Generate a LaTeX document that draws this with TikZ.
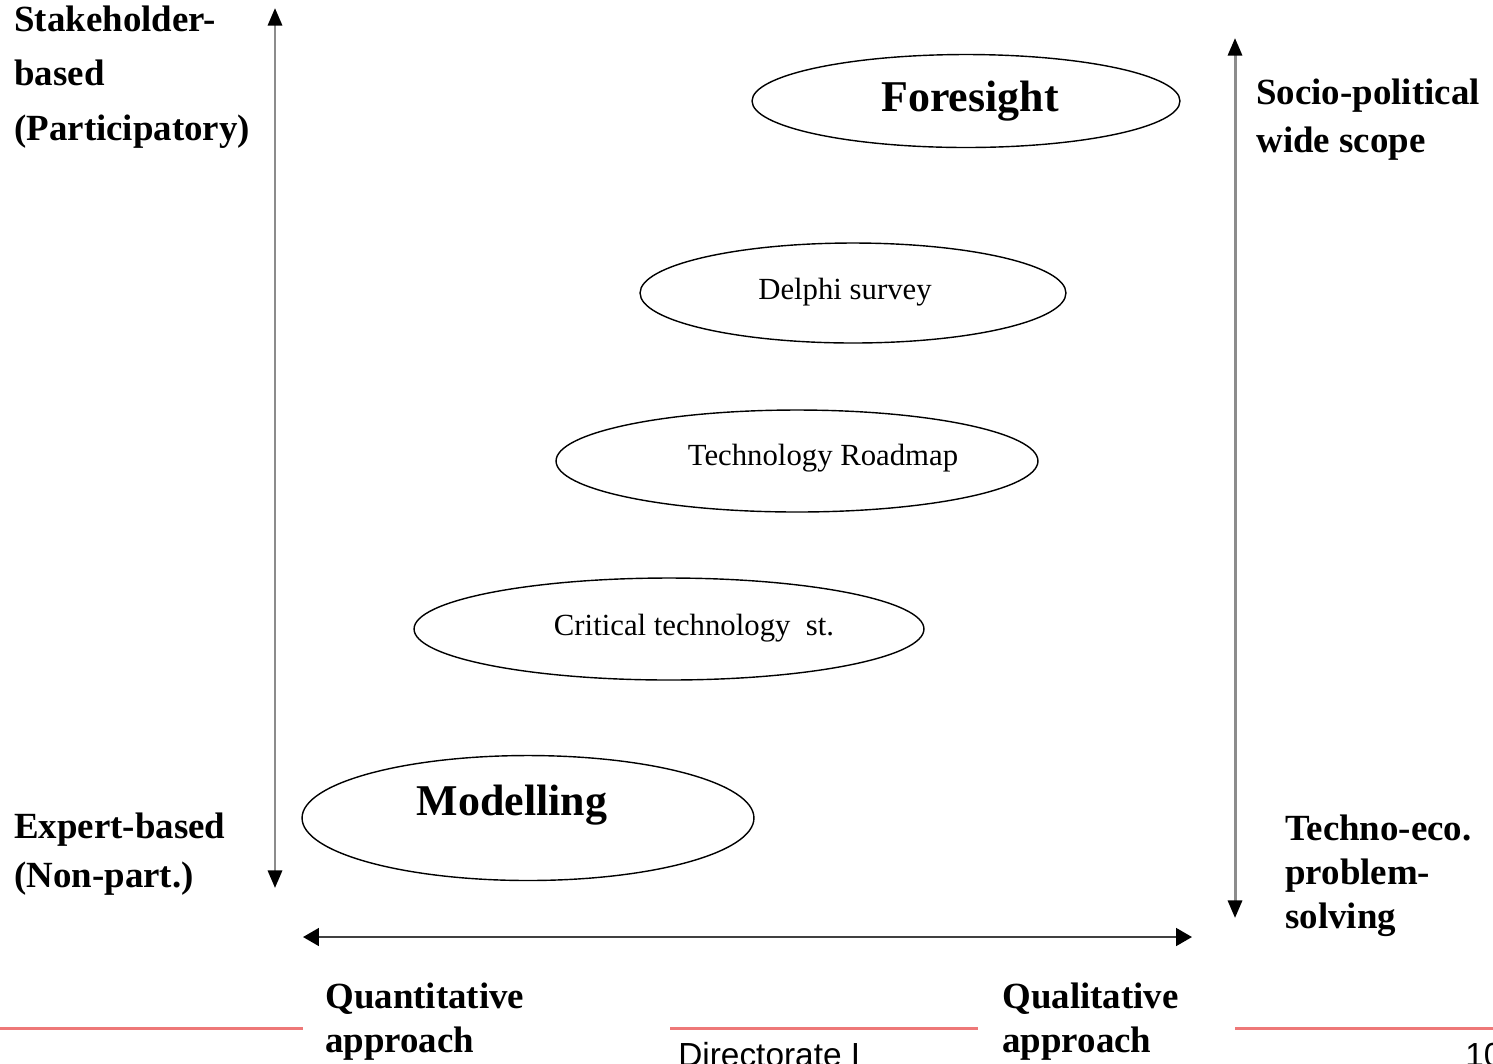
\documentclass[tikz,border=0pt]{standalone}
\usepackage{fontspec}
\setmainfont{Liberation Serif}
\newfontfamily\footerfont{Liberation Sans}
\usetikzlibrary{shapes.geometric}
\usetikzlibrary{arrows.meta}

\definecolor{axisgray}{RGB}{140,140,140}
\definecolor{basegray}{RGB}{64,64,64}
\definecolor{rulered}{RGB}{238,120,120}

\begin{document}
\begin{tikzpicture}[x=0.02cm, y=-0.02cm,
    method/.style={ellipse, draw, line width=0.8pt, inner sep=0pt},
    methodtext/.style={inner sep=0pt, font=\fontsize{17.5}{20}\selectfont},
    bigtext/.style={inner sep=0pt, font=\bfseries\fontsize{25}{28}\selectfont},
    sidelabel/.style={inner sep=0pt, anchor=base west, align=left},
    axis/.style={line width=1.7pt, axisgray,
        {Triangle[length=10pt, width=8pt, color=black]}-{Triangle[length=10pt, width=8pt, color=black]}},
    footrule/.style={line width=1.7pt, rulered}]
    \useasboundingbox (0,0) rectangle (1493,1063);
    \clip (0,0) rectangle (1493,1063);

    % axes
    \coordinate (lefttop) at (275,8);
    \coordinate (leftbottom) at (275,888);
    \coordinate (righttop) at (1235,38);
    \coordinate (rightbottom) at (1235,918);
    \coordinate (quant) at (303,937);
    \coordinate (qual) at (1192,937);
    \draw[axis] (lefttop) -- (leftbottom);
    \draw[axis] (righttop) -- (rightbottom);
    \draw[line width=1.4pt, basegray,
        {Triangle[length=9pt, width=10pt, color=black]}-{Triangle[length=9pt, width=10pt, color=black]}]
        (quant) -- (qual);

    % methods
    \node[method, minimum width=8.56cm, minimum height=1.86cm] (foresight) at (966,101) {};
    \node[method, minimum width=8.52cm, minimum height=2.0cm] (delphi) at (853,293) {};
    \node[method, minimum width=9.64cm, minimum height=2.04cm] (roadmap) at (797,461) {};
    \node[method, minimum width=10.2cm, minimum height=2.04cm] (critical) at (669,629) {};
    \node[method, minimum width=9.04cm, minimum height=2.5cm] (modelling) at (528,818) {};

    \node[bigtext] (foresighttext) at (970,101) {Foresight};
    \node[methodtext] (delphitext) at (845,292) {Delphi survey};
    \node[methodtext] (roadmaptext) at (823,458) {Technology Roadmap};
    \node[methodtext] (criticaltext) at (694,628) {Critical technology\ \ st.};
    \node[bigtext] (modellingtext) at (512,805) {Modelling};

    % axis labels (placed by the baseline of their last line)
    \node[sidelabel, font=\bfseries\fontsize{21}{31}\selectfont] (stakeholder) at (14,140)
        {Stakeholder-\\based\\(Participatory)};
    \node[sidelabel, font=\bfseries\fontsize{21}{27.8}\selectfont] (expert) at (14,887)
        {Expert-based\\(Non-part.)};
    \node[sidelabel, font=\bfseries\fontsize{21}{27.2}\selectfont] (socio) at (1256,152)
        {Socio-political\\wide scope};
    \node[sidelabel, font=\bfseries\fontsize{21}{25}\selectfont] (techno) at (1285,928)
        {Techno-eco.\\problem-\\solving};
    \node[sidelabel, font=\bfseries\fontsize{21}{25}\selectfont] (quantitative) at (325,1052)
        {Quantitative\\approach};
    \node[sidelabel, font=\bfseries\fontsize{21}{25}\selectfont] (qualitative) at (1002,1052)
        {Qualitative\\approach};

    % footer
    \coordinate (rule1a) at (0,1028);
    \coordinate (rule1b) at (303,1028);
    \coordinate (rule2a) at (670,1028);
    \coordinate (rule2b) at (978,1028);
    \coordinate (rule3a) at (1235,1028);
    \coordinate (rule3b) at (1493,1028);
    \draw[footrule] (rule1a) -- (rule1b);
    \draw[footrule] (rule2a) -- (rule2b);
    \draw[footrule] (rule3a) -- (rule3b);
    \node[sidelabel, font=\footerfont\fontsize{19}{22}\selectfont] (directorate) at (678,1066) {Directorate I};
    \node[sidelabel, font=\footerfont\fontsize{19}{22}\selectfont] (pagenum) at (1465,1066) {10};
\end{tikzpicture}
\end{document}
